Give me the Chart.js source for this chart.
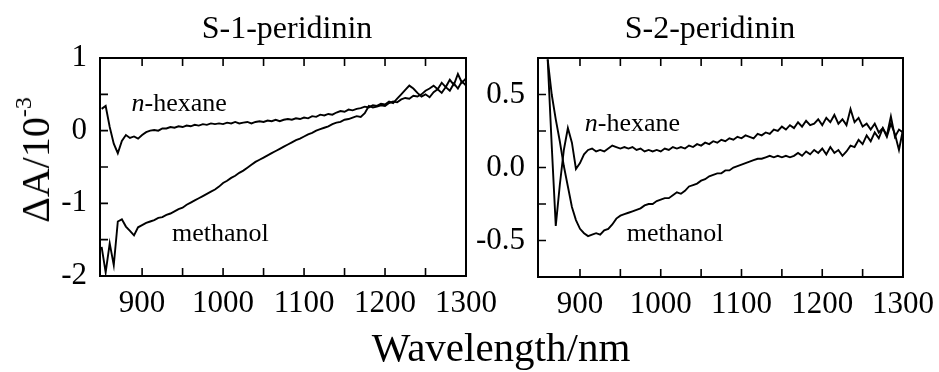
<!DOCTYPE html>
<html>
<head>
<meta charset="utf-8">
<script src="https://cdn.jsdelivr.net/npm/chart.js@4.4.1/dist/chart.umd.min.js"></script>
<style>
  html, body { margin: 0; padding: 0; background: #fff; }
  #wrap { position: relative; width: 939px; height: 372px; overflow: hidden;
          font-family: "Liberation Serif", "Times New Roman", serif; color: #000; }
  canvas { position: absolute; left: 0; top: 0; }
  .txt { position: absolute; white-space: nowrap; line-height: 1; }
  .txt sup { font-size: 24px; vertical-align: 0.75em; line-height: 0; }
</style>
</head>
<body>
<div id="wrap">
  <canvas id="left" width="939" height="372"></canvas>
  <canvas id="right" width="939" height="372"></canvas>
  <div class="txt" style="left:287px;top:11px;font-size:32px;transform:translateX(-50%)">S-1-peridinin</div>
  <div class="txt" style="left:710px;top:11px;font-size:32px;transform:translateX(-50%)">S-2-peridinin</div>
  <div class="txt" style="left:36px;top:160px;font-size:40px;transform:translate(-50%,-50%) rotate(-90deg)">ΔA/10<sup>-3</sup></div>
  <div class="txt" style="left:501px;top:327px;font-size:41px;transform:translateX(-50%)">Wavelength/nm</div>
</div>
<script>
const FONT = '"Liberation Serif", "Times New Roman", serif';

// wavelength grid (nm), 850..1300 every 5 nm
const wavelength = [];
for (let w = 850; w <= 1300; w += 5) wavelength.push(w);

// S-1 peridinin, dA / 10^-3
const s1Hexane = [
  0.30, 0.34, 0.05, -0.18, -0.31, -0.14, -0.06, -0.10, -0.08, -0.11,
  -0.06, -0.02, 0.00, 0.01, 0.00, 0.03, 0.03, 0.05, 0.04, 0.06,
  0.05, 0.07, 0.06, 0.08, 0.07, 0.09, 0.08, 0.10, 0.09, 0.10,
  0.09, 0.11, 0.10, 0.12, 0.10, 0.11, 0.12, 0.10, 0.12, 0.13,
  0.12, 0.14, 0.13, 0.15, 0.13, 0.15, 0.16, 0.15, 0.17, 0.16,
  0.18, 0.17, 0.20, 0.19, 0.22, 0.21, 0.23, 0.22, 0.25, 0.27,
  0.26, 0.29, 0.28, 0.30, 0.31, 0.33, 0.32, 0.35, 0.34, 0.37,
  0.36, 0.40, 0.38, 0.44, 0.50, 0.56, 0.62, 0.58, 0.52, 0.47,
  0.50, 0.46, 0.53, 0.57, 0.52, 0.60, 0.55, 0.65, 0.58, 0.68,
  0.62
];
const s1Methanol = [
  -1.60, -1.95, -1.55, -1.85, -1.25, -1.22, -1.32, -1.38, -1.44, -1.33,
  -1.30, -1.27, -1.25, -1.23, -1.20, -1.19, -1.16, -1.14, -1.11, -1.08,
  -1.06, -1.02, -0.99, -0.96, -0.93, -0.90, -0.87, -0.84, -0.81, -0.77,
  -0.72, -0.69, -0.65, -0.62, -0.58, -0.55, -0.51, -0.47, -0.43, -0.40,
  -0.37, -0.34, -0.31, -0.28, -0.25, -0.22, -0.19, -0.16, -0.13, -0.11,
  -0.08, -0.05, -0.03, 0.00, 0.02, 0.04, 0.06, 0.09, 0.11, 0.12,
  0.15, 0.16, 0.18, 0.20, 0.19, 0.24, 0.34, 0.32, 0.33, 0.35,
  0.34, 0.38, 0.40, 0.39, 0.43, 0.45, 0.44, 0.48, 0.47, 0.50,
  0.55, 0.58, 0.62, 0.57, 0.66, 0.60, 0.70, 0.63, 0.78, 0.66,
  0.72
];

// S-2 peridinin, dA / 10^-3 (no data below 860 nm)
const s2Hexane = [
  null, null, 0.74, 0.15, -0.40, -0.12, 0.12, 0.27, 0.17, -0.01,
  0.03, 0.09, 0.12, 0.13, 0.11, 0.12, 0.11, 0.13, 0.15, 0.14,
  0.13, 0.14, 0.13, 0.14, 0.12, 0.13, 0.11, 0.12, 0.11, 0.12,
  0.11, 0.13, 0.12, 0.14, 0.13, 0.14, 0.13, 0.15, 0.14, 0.16,
  0.15, 0.17, 0.16, 0.18, 0.17, 0.19, 0.18, 0.20, 0.19, 0.21,
  0.20, 0.22, 0.21, 0.20, 0.23, 0.22, 0.24, 0.23, 0.26, 0.25,
  0.28, 0.26, 0.29, 0.27, 0.31, 0.28, 0.32, 0.29, 0.30, 0.33,
  0.29, 0.34, 0.31, 0.36, 0.30, 0.33, 0.29, 0.40, 0.31, 0.34,
  0.28, 0.30, 0.26, 0.30, 0.24, 0.27, 0.22, 0.35, 0.21, 0.26,
  0.24
];
const s2Methanol = [
  null, null, 0.74, 0.50, 0.33, 0.18, 0.01, -0.13, -0.27, -0.36,
  -0.42, -0.45, -0.47, -0.46, -0.45, -0.46, -0.43, -0.42, -0.39, -0.35,
  -0.33, -0.32, -0.31, -0.30, -0.29, -0.28, -0.26, -0.25, -0.25, -0.23,
  -0.22, -0.21, -0.21, -0.19, -0.17, -0.18, -0.16, -0.13, -0.12, -0.11,
  -0.09, -0.08, -0.06, -0.05, -0.04, -0.04, -0.02, -0.02, 0.00, 0.01,
  0.02, 0.03, 0.04, 0.05, 0.06, 0.06, 0.07, 0.08, 0.07, 0.08,
  0.07, 0.08, 0.07, 0.08, 0.10, 0.08, 0.11, 0.09, 0.12, 0.10,
  0.13, 0.09, 0.14, 0.10, 0.12, 0.08, 0.11, 0.15, 0.14, 0.19,
  0.16, 0.22, 0.18, 0.24, 0.20, 0.27, 0.21, 0.30, 0.23, 0.12,
  0.26
];

// tick values
const xTicks = [900, 950, 1000, 1050, 1100, 1150, 1200, 1250, 1300];
const xTickLabels = [900, 1000, 1100, 1200, 1300];
const s1YTicks = [-2, -1.5, -1, -0.5, 0, 0.5, 1];
const s1YTickLabels = [-2, -1, 0, 1];
const s2YTicks = [-0.75, -0.5, -0.25, 0, 0.25, 0.5, 0.75];
const s2YTickLabels = [-0.5, 0, 0.5];

// in-plot curve names, placed in data coordinates
const s1Names = [
  { italic: 'n', text: '-hexane', x: 887, y: 0.27 },
  { italic: '', text: 'methanol', x: 937, y: -1.52 }
];
const s2Names = [
  { italic: 'n', text: '-hexane', x: 906, y: 0.25 },
  { italic: '', text: 'methanol', x: 958, y: -0.50 }
];

const toPoints = arr => wavelength.map((w, i) => ({ x: w, y: arr[i] }));

// box frame, inward ticks and curve names
const framePlugin = {
  id: 'frame',
  afterDatasetsDraw(chart, args, opts) {
    const { ctx, chartArea: a, scales: { x, y } } = chart;
    ctx.save();
    ctx.strokeStyle = '#000';
    ctx.lineWidth = 2;
    ctx.strokeRect(a.left, a.top, a.right - a.left, a.bottom - a.top);
    ctx.lineWidth = 1.6;
    ctx.beginPath();
    x.ticks.forEach(t => {
      const px = x.getPixelForValue(t.value);
      if (px < a.left + 3 || px > a.right - 3) return;
      ctx.moveTo(px, a.bottom); ctx.lineTo(px, a.bottom - 8);
      ctx.moveTo(px, a.top); ctx.lineTo(px, a.top + 8);
    });
    y.ticks.forEach(t => {
      const py = y.getPixelForValue(t.value);
      if (py < a.top + 3 || py > a.bottom - 3) return;
      ctx.moveTo(a.left, py); ctx.lineTo(a.left + 8, py);
    });
    ctx.stroke();

    ctx.fillStyle = '#000';
    ctx.textBaseline = 'alphabetic';
    ctx.textAlign = 'left';
    opts.names.forEach(n => {
      let px = x.getPixelForValue(n.x);
      const py = y.getPixelForValue(n.y);
      if (n.italic) {
        ctx.font = 'italic 26px ' + FONT;
        ctx.fillText(n.italic, px, py);
        px += ctx.measureText(n.italic).width;
      }
      ctx.font = '26px ' + FONT;
      ctx.fillText(n.text, px, py);
    });
    ctx.restore();
  }
};

function makePanel(id, hex, met, yMin, yMax, yTicks, yLabels, yFmt, pad, xHeight, names) {
  return new Chart(document.getElementById(id), {
    type: 'line',
    data: {
      datasets: [
        { label: 'n-hexane', data: toPoints(hex) },
        { label: 'methanol', data: toPoints(met) }
      ]
    },
    options: {
      responsive: false,
      animation: false,
      events: [],
      layout: { padding: pad },
      elements: {
        line: { borderColor: '#000', borderWidth: 1.9, tension: 0 },
        point: { radius: 0 }
      },
      plugins: {
        legend: { display: false },
        tooltip: { enabled: false },
        frame: { names: names }
      },
      scales: {
        x: {
          type: 'linear', min: 848, max: 1300,
          afterBuildTicks: s => { s.ticks = xTicks.map(v => ({ value: v })); },
          afterFit: s => { s.height = xHeight; },
          grid: { display: false }, border: { display: false },
          ticks: {
            padding: 1, maxRotation: 0, autoSkip: false, color: '#000',
            font: { family: FONT, size: 31 },
            callback: v => xTickLabels.includes(v) ? String(v) : ''
          }
        },
        y: {
          type: 'linear', min: yMin, max: yMax,
          afterBuildTicks: s => { s.ticks = yTicks.map(v => ({ value: v })); },
          afterFit: s => { s.width = 100; },
          grid: { display: false }, border: { display: false },
          ticks: {
            padding: 5, autoSkip: false, color: '#000',
            font: { family: FONT, size: 31 },
            callback: v => yLabels.includes(v) ? yFmt(v) : ''
          }
        }
      }
    },
    plugins: [framePlugin]
  });
}

makePanel('left', s1Hexane, s1Methanol, -2, 1, s1YTicks, s1YTickLabels,
  v => String(v), { left: 0, right: 473, top: 58, bottom: 0 }, 96, s1Names);
makePanel('right', s2Hexane, s2Methanol, -0.75, 0.75, s2YTicks, s2YTickLabels,
  v => v.toFixed(1), { left: 438, right: 36, top: 58, bottom: 0 }, 95, s2Names);
</script>
</body>
</html>
